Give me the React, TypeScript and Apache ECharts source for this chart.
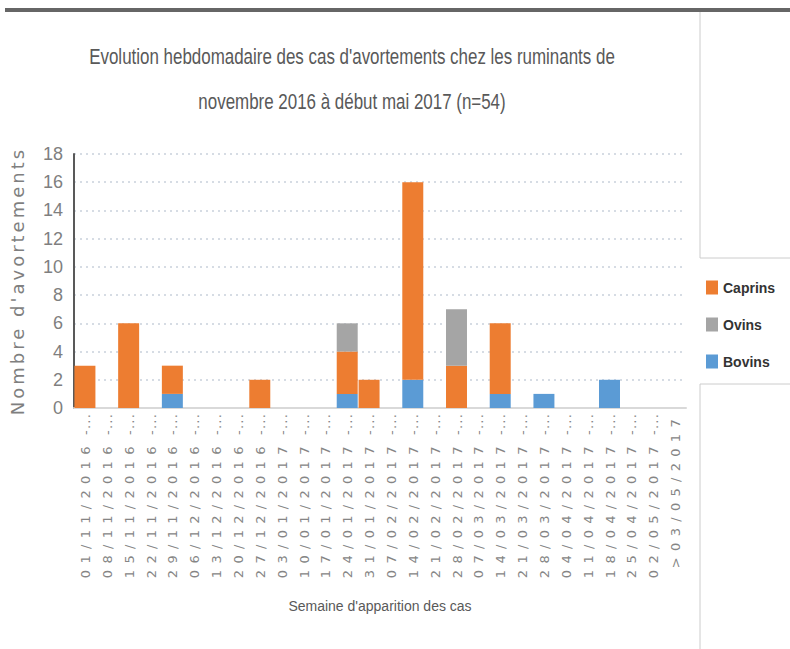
import React, { useEffect, useRef } from "react";
import * as echarts from "echarts";

const categories = [
  "01/11/2016 -...", "08/11/2016 -...", "15/11/2016 -...", "22/11/2016 -...",
  "29/11/2016 -...", "06/12/2016 -...", "13/12/2016 -...", "20/12/2016 -...",
  "27/12/2016 -...", "03/01/2017 -...", "10/01/2017 -...", "17/01/2017 -...",
  "24/01/2017 -...", "31/01/2017 -...", "07/02/2017 -...", "14/02/2017 -...",
  "21/02/2017 -...", "28/02/2017 -...", "07/03/2017 -...", "14/03/2017 -...",
  "21/03/2017 -...", "28/03/2017 -...", "04/04/2017 -...", "11/04/2017 -...",
  "18/04/2017 -...", "25/04/2017 -...", "02/05/2017 -...", ">03/05/2017",
];

const caprins = [3, 0, 6, 0, 2, 0, 0, 0, 2, 0, 0, 0, 3, 2, 0, 14, 0, 3, 0, 5, 0, 0, 0, 0, 0, 0, 0, 0];
const ovins = [0, 0, 0, 0, 0, 0, 0, 0, 0, 0, 0, 0, 2, 0, 0, 0, 0, 4, 0, 0, 0, 0, 0, 0, 0, 0, 0, 0];
const bovins = [0, 0, 0, 0, 1, 0, 0, 0, 0, 0, 0, 0, 1, 0, 0, 2, 0, 0, 0, 1, 0, 1, 0, 0, 2, 0, 0, 0];

const yTicks = { min: 0, max: 18, interval: 2 };

const titleLine1 = "Evolution hebdomadaire des cas d'avortements chez les ruminants de";
const titleLine2 = "novembre 2016 à début mai 2017 (n=54)";
const yName = "Nombre d'avortements";
const xName = "Semaine d'apparition des cas";

const SANS = '"Liberation Sans", Arial, sans-serif';

export default function App() {
  const ref = useRef<HTMLDivElement>(null);

  useEffect(() => {
    if (!ref.current) return;
    const chart = echarts.init(ref.current, null, { renderer: "svg", width: 790, height: 649 });
    const barCommon = {
      type: "bar" as const,
      stack: "total",
      barCategoryGap: "4%",
    };
    const titleStyle = {
      fontFamily: SANS,
      fontSize: 22,
      fill: "#595959",
      align: "center",
      verticalAlign: "middle",
    };
    chart.setOption({
      animation: false,
      backgroundColor: "#ffffff",
      legend: {
        orient: "vertical",
        left: 701,
        top: 274,
        data: ["Caprins", "Ovins", "Bovins"],
        itemWidth: 12,
        itemHeight: 14,
        itemGap: 20,
        icon: "rect",
        textStyle: {
          fontFamily: SANS,
          fontSize: 14,
          fontWeight: "bold",
          color: "#333333",
          lineHeight: 17,
        },
      },
      grid: { left: 70, right: 104, top: 154, bottom: 241, containLabel: false },
      xAxis: {
        type: "category",
        data: categories,
        name: xName,
        nameLocation: "middle",
        nameGap: 191,
        nameTextStyle: { fontFamily: SANS, fontSize: 14, color: "#595959" },
        axisLine: { lineStyle: { color: "#d9d9d9", width: 2 } },
        axisTick: { show: false },
        axisLabel: {
          rotate: 90,
          interval: 0,
          margin: 5,
          fontFamily: '"DejaVu Sans", sans-serif',
          fontSize: 13,
          color: "#858585",
        },
      },
      yAxis: {
        type: "value",
        min: yTicks.min,
        max: yTicks.max,
        interval: yTicks.interval,
        name: yName,
        nameLocation: "middle",
        nameGap: 48,
        nameTextStyle: { fontFamily: '"DejaVu Sans", sans-serif', fontSize: 18, color: "#7f7f7f" },
        axisLine: { show: true, lineStyle: { color: "#595959", width: 2 } },
        axisTick: { show: false },
        axisLabel: { fontFamily: SANS, fontSize: 18, color: "#7f7f7f", margin: 11 },
        splitLine: { lineStyle: { color: "#c9d1dc", type: [2, 4], width: 1.5 } },
      },
      series: [
        { ...barCommon, name: "Bovins", data: bovins, itemStyle: { color: "#5b9bd5" } },
        { ...barCommon, name: "Caprins", data: caprins, itemStyle: { color: "#ed7d31" } },
        { ...barCommon, name: "Ovins", data: ovins, itemStyle: { color: "#a5a5a5" } },
      ],
      graphic: [
        { type: "rect", shape: { x: 5, y: 8, width: 785, height: 4 }, style: { fill: "#666666" }, silent: true },
        { type: "line", shape: { x1: 700, y1: 12, x2: 700, y2: 258 }, style: { stroke: "#cccccc", lineWidth: 1 }, silent: true },
        { type: "line", shape: { x1: 700, y1: 258, x2: 790, y2: 258 }, style: { stroke: "#cccccc", lineWidth: 1 }, silent: true },
        { type: "line", shape: { x1: 700, y1: 384, x2: 790, y2: 384 }, style: { stroke: "#cccccc", lineWidth: 1 }, silent: true },
        { type: "line", shape: { x1: 700, y1: 384, x2: 700, y2: 649 }, style: { stroke: "#cccccc", lineWidth: 1 }, silent: true },
        { type: "text", x: 352, y: 56, scaleX: 0.77, style: { ...titleStyle, text: titleLine1 }, silent: true },
        { type: "text", x: 352, y: 101, scaleX: 0.77, style: { ...titleStyle, text: titleLine2 }, silent: true },
      ],
    });

    const NS = "http://www.w3.org/2000/svg";
    const applySpacing = () => {
      const root = ref.current;
      if (!root) return;
      root.querySelectorAll("text").forEach((t) => {
        if (t.getAttribute("data-sp")) return;
        const s = t.textContent || "";
        if (categories.includes(s)) {
          t.setAttribute("data-sp", "1");
          const idx = s.indexOf(" -...");
          const main = idx >= 0 ? s.slice(0, idx) : s;
          const rest = idx >= 0 ? s.slice(idx) : "";
          t.textContent = "";
          const a = document.createElementNS(NS, "tspan");
          a.setAttribute("letter-spacing", "6.3");
          a.textContent = main;
          t.appendChild(a);
          if (rest) {
            const b = document.createElementNS(NS, "tspan");
            b.setAttribute("letter-spacing", "1.2");
            b.textContent = rest;
            t.appendChild(b);
          }
        } else if (s === yName) {
          t.setAttribute("data-sp", "1");
          t.setAttribute("letter-spacing", "3");
        }
      });
    };
    chart.on("finished", applySpacing);
    applySpacing();

    return () => {
      chart.dispose();
    };
  }, []);

  return <div ref={ref} style={{ width: 790, height: 649, position: "absolute", left: 0, top: 0 }} />;
}
